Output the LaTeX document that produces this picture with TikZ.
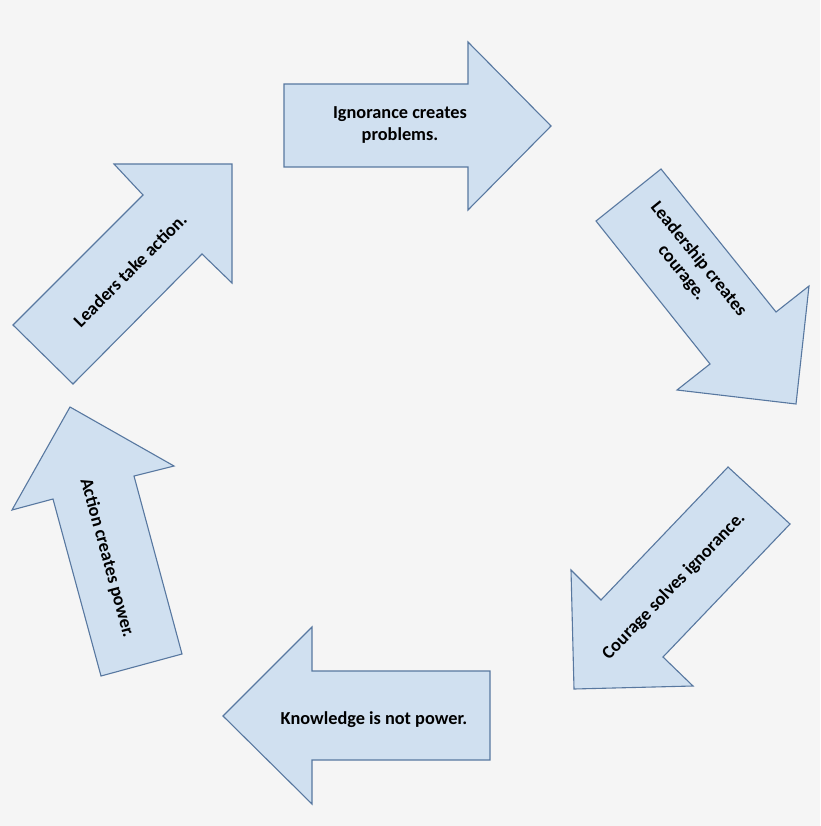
\documentclass[tikz,border=0pt]{standalone}
\usepackage{fontspec}
\setmainfont{Carlito}
\begin{document}
\begin{tikzpicture}[x=1pt,y=-1pt,
  blk/.style={fill=arrowfill,draw=arrowline,line width=1.1pt,line join=miter},
  lbl/.style={font=\bfseries\fontsize{18.3}{21.5}\selectfont,align=center,text=black}]
\definecolor{arrowfill}{HTML}{D0E0F0}
\definecolor{arrowline}{HTML}{5878A0}
\fill[white!96!black] (0,0) rectangle (820,826);
\useasboundingbox (0,0) rectangle (820,826);
\draw[blk] (284,84)--(468,84)--(468,42)--(551,126)--(468,210)--(468,167)--(284,167)--cycle;
\draw[blk] (596,221)--(661,169)--(776,312)--(809,286)--(796,404)--(677,390)--(710,364)--cycle;
\draw[blk] (728,467)--(790,524)--(663,657)--(693,686)--(574,689)--(571,570)--(601,600)--cycle;
\draw[blk] (312,671)--(490,671)--(490,760)--(312,760)--(312,804)--(223,716)--(312,627)--cycle;
\draw[blk] (70,407)--(174,466)--(134,476)--(182,654)--(101,676)--(53,499)--(12,510)--cycle;
\draw[blk] (114,164)--(232,164)--(232,283)--(202,254)--(73,384)--(13,325)--(143,195)--cycle;
\node[lbl] (t1) at (400,125) {Ignorance creates\\problems.};
\node[lbl,rotate=-51] (t2) at (690,266) {Leadership creates\\courage.};
\node[lbl,rotate=46] (t3) at (674,586) {Courage solves ignorance.};
\node[lbl] (t4) at (374,720) {Knowledge is not power.};
\node[lbl,rotate=-74.6] (t5) at (107,558) {Action creates power.};
\node[lbl,rotate=45] (t6) at (130,270) {Leaders take action.};
\end{tikzpicture}
\end{document}
